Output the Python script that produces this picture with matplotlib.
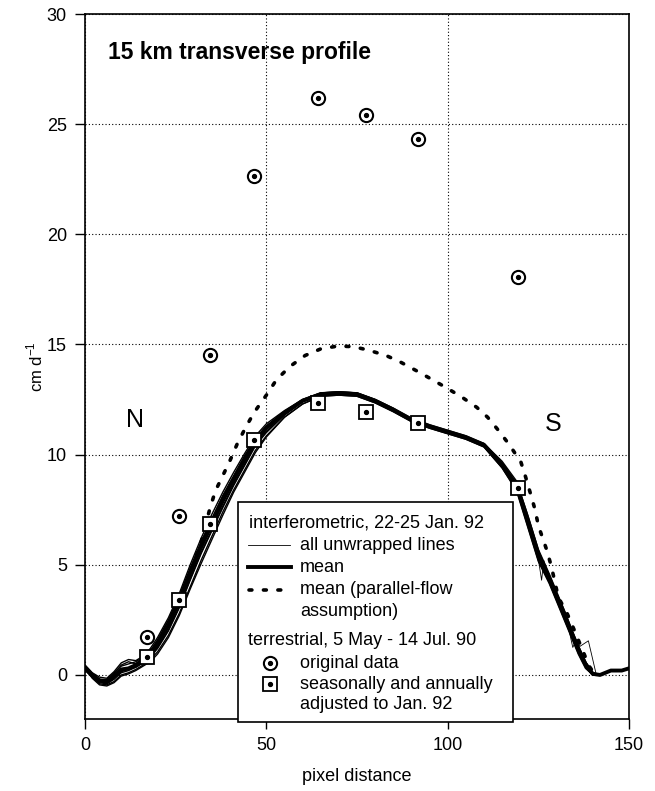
import matplotlib

matplotlib.use("Agg")
import matplotlib.pyplot as plt
from matplotlib.patches import Rectangle

plt.rcParams["font.family"] = ["Liberation Sans", "DejaVu Sans"]
plt.rcParams["mathtext.fontset"] = "custom"
plt.rcParams["mathtext.rm"] = "Liberation Sans"

# mean of interferometric lines
MEAN_X = [0, 2, 4, 6, 8, 10, 12, 14, 16, 18, 20, 23, 26, 29, 32, 35, 38, 41, 44, 47,
          50, 55, 60, 65, 70, 75, 80, 85, 90, 95, 100, 105, 110, 115, 119, 122, 125,
          128, 130, 132, 134, 136, 138, 140, 142, 145, 148, 150]
MEAN_Y = [0.35, 0.0, -0.25, -0.3, -0.05, 0.25, 0.3, 0.45, 0.7, 0.95, 1.4, 2.25, 3.35,
          4.6, 5.8, 6.85, 7.9, 8.85, 9.75, 10.6, 11.2, 11.9, 12.45, 12.75, 12.8, 12.75,
          12.45, 12.05, 11.6, 11.3, 11.05, 10.8, 10.45, 9.55, 8.6, 7.1, 5.5, 4.4, 3.6,
          2.85, 2.0, 1.2, 0.5, 0.05, 0.0, 0.2, 0.2, 0.3]

# individual unwrapped lines (same x as the mean)
LINE_1 = [0.45, 0.1, -0.1, -0.15, 0.15, 0.55, 0.7, 0.65, 0.85, 1.2, 1.7, 2.6, 3.7, 5.0,
          6.2, 7.3, 8.3, 9.2, 10.05, 10.85, 11.4, 12.0, 12.5, 12.8, 12.85, 12.8, 12.5,
          12.1, 11.65, 11.35, 11.1, 10.85, 10.5, 9.7, 8.8, 7.3, 5.7, 4.6, 3.8, 3.0,
          2.15, 1.35, 0.6, 0.1, 0.02, 0.2, 0.2, 0.3]
LINE_2 = [0.3, -0.05, -0.3, -0.4, -0.2, 0.1, 0.2, 0.35, 0.55, 0.8, 1.2, 2.0, 3.05, 4.3,
          5.5, 6.55, 7.6, 8.6, 9.5, 10.4, 11.0, 11.8, 12.4, 12.7, 12.75, 12.7, 12.4,
          12.0, 11.55, 11.25, 11.0, 10.75, 10.4, 9.45, 8.45, 6.9, 5.3, 4.3, 3.5, 2.7,
          1.9, 1.1, 0.4, 0.0, 0.0, 0.2, 0.2, 0.3]
LINE_3 = [0.2, -0.1, -0.4, -0.45, -0.3, 0.0, 0.1, 0.25, 0.45, 0.7, 1.05, 1.8, 2.8, 4.0,
          5.2, 6.3, 7.4, 8.4, 9.3, 10.2, 10.85, 11.7, 12.3, 12.65, 12.7, 12.65, 12.35,
          11.95, 11.5, 11.2, 10.95, 10.7, 10.35, 9.4, 8.4, 6.8, 5.2, 4.2, 3.4, 2.6,
          1.8, 1.0, 0.35, 0.0, 0.0, 0.2, 0.2, 0.3]
LINE_4 = [0.4, 0.05, -0.2, -0.25, 0.05, 0.45, 0.6, 0.5, 0.75, 1.05, 1.55, 2.45, 3.5,
          4.8, 6.0, 7.1, 8.1, 9.0, 9.9, 10.7, 11.3, 11.95, 12.45, 12.75, 12.8, 12.75,
          12.45, 12.05, 11.6, 11.3, 11.05, 10.8, 10.45, 9.6, 8.65, 7.2, 5.6, 4.5, 3.7,
          2.9, 2.05, 1.25, 0.55, 0.05, 0.0, 0.2, 0.2, 0.3]
LINE_5 = [0.4, 0.05, -0.2, -0.2, 0.1, 0.4, 0.5, 0.6, 0.8, 1.1, 1.6, 2.5, 3.6, 4.85,
          6.05, 7.1, 8.15, 9.05, 9.95, 10.75, 11.3, 11.95, 12.5, 12.8, 12.85, 12.8,
          12.5, 12.1, 11.6, 11.3, 11.05, 10.8, 10.5, 9.6, 8.7, 7.2, 5.6, 4.5, 3.7, 2.9,
          2.1, 1.3, 0.6, 0.1, 0.0, 0.2, 0.2, 0.3]
LINE_6 = [0.25, -0.1, -0.35, -0.4, -0.15, 0.15, 0.25, 0.35, 0.55, 0.85, 1.25, 2.05,
          3.1, 4.35, 5.55, 6.6, 7.65, 8.65, 9.55, 10.45, 11.05, 11.8, 12.4, 12.7, 12.75,
          12.7, 12.4, 12.0, 11.55, 11.25, 11.0, 10.75, 10.4, 9.5, 8.5, 7.0, 5.4, 4.35,
          3.55, 2.8, 1.95, 1.15, 0.45, 0.0, 0.0, 0.2, 0.2, 0.3]
LINE_7 = [0.3, -0.15, -0.45, -0.5, -0.35, -0.05, 0.05, 0.2, 0.4, 0.6, 0.95, 1.7, 2.7,
          3.9, 5.05, 6.15, 7.25, 8.3, 9.2, 10.1, 10.8, 11.7, 12.3, 12.65, 12.7, 12.65,
          12.35, 11.95, 11.5, 11.2, 10.95, 10.7, 10.35, 9.4, 8.35, 6.75, 5.15, 4.15,
          3.35, 2.55, 1.75, 0.95, 0.3, 0.0, 0.0, 0.2, 0.2, 0.3]
# one line with unwrapping spikes near the south margin
SPIKE_X = [122, 124.5, 125.9, 126.5, 128, 131, 133.5, 134.5, 135.5, 136.5, 138.8, 141]
SPIKE_Y = [7.0, 5.8, 4.3, 5.2, 4.4, 3.2, 2.0, 1.25, 1.6, 1.3, 1.55, 0.0]

# mean under parallel-flow assumption
PAR_X = [28, 30, 32, 34.5, 36, 38, 40, 42, 44.5, 46.7, 50, 52.8, 56.5, 60.7, 65, 69.8,
         74, 78, 83, 87, 91.7, 95.8, 100, 104, 108, 111, 114, 117, 120.2, 121.5, 122.8,
         124.1, 125, 127.3, 128.6, 130.5, 133, 135, 137, 139, 140.5]
PAR_Y = [4.2, 5.1, 6.0, 7.6, 8.37, 9.05, 9.74, 10.5, 11.3, 11.93, 12.7, 13.4, 14.0,
         14.5, 14.8, 14.93, 14.9, 14.75, 14.5, 14.2, 13.78, 13.4, 13.0, 12.6, 12.15,
         11.7, 11.1, 10.45, 9.66, 8.98, 8.25, 7.5, 6.78, 5.68, 4.92, 3.53, 2.77, 2.0,
         1.2, 0.4, 0.05]

# terrestrial survey
TERR_X = [17.0, 25.8, 34.6, 46.7, 64.2, 77.5, 91.8, 119.3]
ORIG_Y = [1.71, 7.2, 14.52, 22.64, 26.18, 25.42, 24.33, 18.08]
ADJ_Y = [0.8, 3.38, 6.83, 10.68, 12.33, 11.95, 11.45, 8.5]


def circle_dot(ax, x, y, size=9.5, **kw):
    ax.plot(x, y, "o", ms=size, mfc="none", mec="black", mew=1.5, **kw)
    ax.plot(x, y, "o", ms=2.8, color="black", **kw)


def square_dot(ax, x, y, size=9.5, **kw):
    ax.plot(x, y, "s", ms=size, mfc="white", mec="black", mew=1.3, **kw)
    ax.plot(x, y, "o", ms=2.8, color="black", **kw)


fig = plt.figure(figsize=(6.55, 7.91), dpi=100)
ax = fig.add_axes([0.1298, 0.0910, 0.8305, 0.8913])

for ys in (LINE_1, LINE_2, LINE_3, LINE_4, LINE_5, LINE_6, LINE_7):
    ax.plot(MEAN_X, ys, color="black", lw=1.0)
ax.plot(SPIKE_X, SPIKE_Y, color="black", lw=0.6)
ax.plot(MEAN_X, MEAN_Y, color="black", lw=2.8)
ax.plot(PAR_X, PAR_Y, color="black", lw=2.6, linestyle=(0, (0.8, 3.2)),
        dash_capstyle="round")

circle_dot(ax, TERR_X, ORIG_Y)
square_dot(ax, TERR_X, ADJ_Y)

ax.set_xlim(0, 150)
ax.set_ylim(-2, 30)
ax.set_xticks([0, 50, 100, 150])
ax.set_yticks([0, 5, 10, 15, 20, 25, 30])
ax.tick_params(direction="out", length=7, width=1, labelsize=13, pad=6)
ax.grid(True, color="black", linestyle=(0, (1, 2)), linewidth=0.8)
ax.set_axisbelow(True)
for sp in ax.spines.values():
    sp.set_linewidth(1.2)

ax.set_xlabel("pixel distance", fontsize=13, labelpad=10)
ax.set_ylabel("cm d$^{-1}$", fontsize=12, labelpad=1)

ax.text(0.043, 0.945, "15 km transverse profile", transform=ax.transAxes,
        fontsize=16.5, fontweight="bold", va="center", ha="left")
ax.text(13.8, 11.55, "N", fontsize=18, ha="center", va="center")
ax.text(129, 11.4, "S", fontsize=18, ha="center", va="center")


# legend box drawn by hand (axes fraction coordinates)
def fx(px):
    return (px - 85) / 544.0


def fy(py):
    return (719 - py) / 705.0


box = Rectangle((fx(238.3), fy(722)), fx(513.3) - fx(238.3), fy(502.3) - fy(722),
                transform=ax.transAxes, facecolor="white", edgecolor="black",
                lw=1.2, zorder=5, clip_on=False)
ax.add_patch(box)
tk = dict(transform=ax.transAxes, fontsize=13, va="center", ha="left", zorder=6)
ax.text(fx(249), fy(523), "interferometric, 22-25 Jan. 92", **tk)
ax.plot([fx(248), fx(290)], [fy(545), fy(545)], color="black", lw=0.6,
        transform=ax.transAxes, zorder=6, clip_on=False)
ax.text(fx(300), fy(545), "all unwrapped lines", **tk)
ax.plot([fx(248), fx(291)], [fy(567), fy(567)], color="black", lw=2.8,
        transform=ax.transAxes, zorder=6, clip_on=False)
ax.text(fx(300), fy(567), "mean", **tk)
ax.plot([fx(249), fx(290)], [fy(590), fy(590)], color="black", lw=2.6,
        linestyle=(0, (0.8, 3.2)), dash_capstyle="round",
        transform=ax.transAxes, zorder=6, clip_on=False)
ax.text(fx(300), fy(589), "mean (parallel-flow", **tk)
ax.text(fx(300), fy(611), "assumption)", **tk)
ax.text(fx(248), fy(640), "terrestrial, 5 May - 14 Jul. 90", **tk)
circle_dot(ax, [fx(269.5)], [fy(663)], transform=ax.transAxes, zorder=7,
           clip_on=False)
ax.text(fx(300), fy(663), "original data", **tk)
square_dot(ax, [fx(269.5)], [fy(684)], transform=ax.transAxes, zorder=7,
           clip_on=False)
ax.text(fx(300), fy(684), "seasonally and annually", **tk)
ax.text(fx(300), fy(704), "adjusted to Jan. 92", **tk)

fig.savefig("out.png", dpi=100)
